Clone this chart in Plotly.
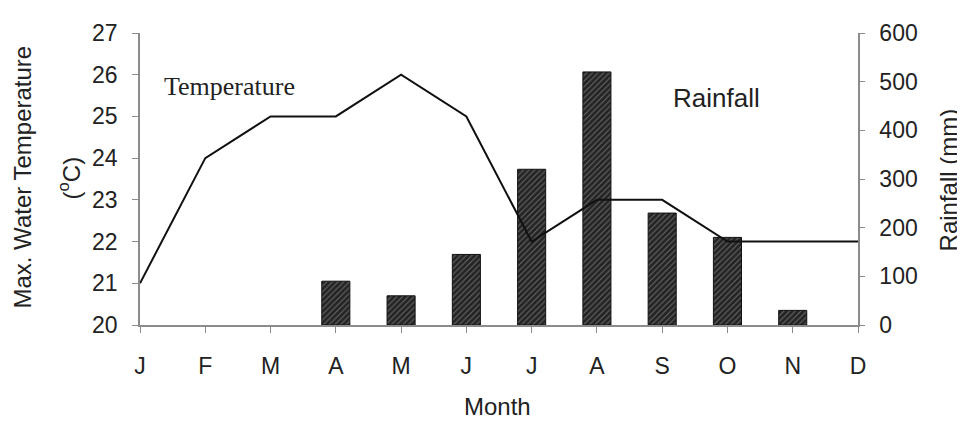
import plotly.graph_objects as go

months = ["J", "F", "M", "A", "M", "J", "J", "A", "S", "O", "N", "D"]
month_index = list(range(12))
temperature = [21, 24, 25, 25, 26, 25, 22, 23, 23, 22, 22, 22]
rainfall = [0, 0, 0, 90, 60, 145, 320, 520, 230, 180, 30, 0]
temp_ticks = [20, 21, 22, 23, 24, 25, 26, 27]
rain_ticks = [0, 100, 200, 300, 400, 500, 600]

AX = "#8c8c8c"
TXT = "#222222"
FONT = "Arial, Liberation Sans, sans-serif"

# page has an 8px body margin; figure placed accordingly
OFF = 8
W, H = 965 - OFF, 426 - OFF
L, T = 140 - OFF, 22 - OFF
PW, PH = 718, 303

def px(x):
    return (x - 140) / PW

def py(y):
    return (325 - y) / PH

fig = go.Figure()
fig.add_trace(go.Bar(
    x=month_index, y=rainfall, width=0.43, yaxis="y",
    marker=dict(color="#262626",
                line=dict(color="#111111", width=[1 if v > 0 else 0 for v in rainfall]),
                pattern=dict(shape="/", bgcolor="#242424", fgcolor="#6a6a6a",
                             size=4, solidity=0.25, fillmode="replace")),
    showlegend=False,
))
fig.add_trace(go.Scatter(
    x=month_index, y=temperature, yaxis="y2", mode="lines",
    line=dict(color="#111111", width=2), showlegend=False,
))

fig.update_layout(
    width=W, height=H,
    margin=dict(l=L, r=W - L - PW, t=T, b=H - T - PH),
    paper_bgcolor="white", plot_bgcolor="white",
    font=dict(family=FONT, size=23, color=TXT),
    xaxis=dict(range=[0, 11], tickvals=month_index, ticktext=months,
               showline=True, linecolor=AX, linewidth=1.5,
               ticks="outside", ticklen=6, tickcolor=AX,
               ticklabelstandoff=14, showgrid=False, zeroline=False,
               tickfont=dict(size=23, color=TXT)),
    yaxis=dict(range=[0, 600], tickvals=rain_ticks, side="right",
               showline=True, linecolor=AX, linewidth=1.5,
               ticks="outside", ticklen=5, tickcolor=AX,
               ticklabelstandoff=10, showgrid=False, zeroline=False,
               tickfont=dict(size=23, color=TXT)),
    yaxis2=dict(range=[20, 27], tickvals=temp_ticks, side="left",
                overlaying="y", showline=True, linecolor=AX, linewidth=1.5,
                ticks="outside", ticklen=6, tickcolor=AX,
                ticklabelstandoff=10, showgrid=False, zeroline=False,
                tickfont=dict(size=23, color=TXT)),
)

annots = [
    dict(text="Max. Water Temperature", x=px(23), y=py(172),
         textangle=-90, font=dict(size=24)),
    dict(text="(<sup>o</sup>C)", x=px(69), y=py(173),
         textangle=-90, font=dict(size=24)),
    dict(text="Rainfall (mm)", x=px(948), y=py(175),
         textangle=-90, font=dict(size=24)),
    dict(text="Month", x=px(497), y=py(410), font=dict(size=24)),
    dict(text="Temperature", x=px(229), y=py(78),
         font=dict(size=26, family="Liberation Serif, Times New Roman, serif")),
    dict(text="Rainfall", x=px(716), y=py(89), font=dict(size=26)),
]
for a in annots:
    fig.add_annotation(xref="paper", yref="paper", showarrow=False,
                       xanchor="center", yanchor="middle", **a)

fig.write_html("out.html")
